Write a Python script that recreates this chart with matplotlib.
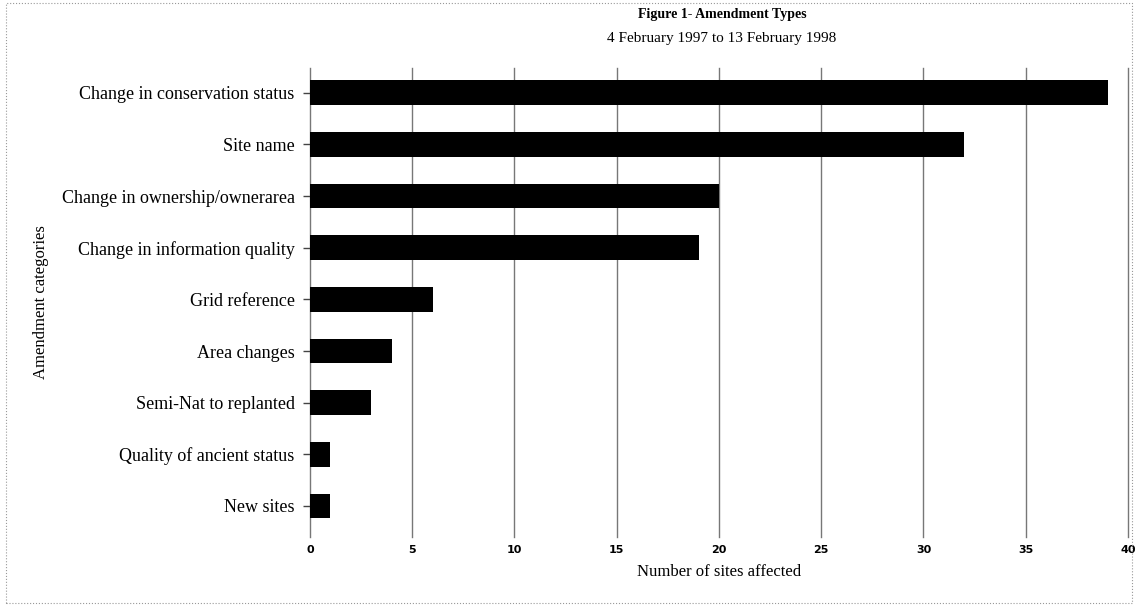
import matplotlib.pyplot as plt
import matplotlib.patches as mpatches
import numpy as np

# Amendment categories and number of sites affected
categories = ['Change in conservation status', 'Site name', 'Change in ownership/ownerarea',
              'Change in information quality', 'Grid reference', 'Area changes',
              'Semi-Nat to replanted', 'Quality of ancient status', 'New sites']
sites = [39, 32, 20, 19, 6, 4, 3, 1, 1]
xticks = [0, 5, 10, 15, 20, 25, 30, 35, 40]

plt.rcParams['font.family'] = ['Liberation Serif', 'DejaVu Serif']

fig = plt.figure(figsize=(11.38, 6.06), dpi=100)
ax = fig.add_axes([0.2724, 0.1139, 0.7188, 0.7739])

y = np.arange(len(categories))
ax.barh(y, sites, height=0.48, color='black', zorder=3)

ax.set_xlim(0, 40)
ax.set_ylim(8.6, -0.48)
ax.set_yticks(y)
ax.set_yticklabels(categories, fontsize=13)
ax.set_xticks(xticks)
ax.set_xticklabels([str(t) for t in xticks], fontsize=8, fontweight='bold',
                   family='DejaVu Sans')
ax.tick_params(axis='y', length=5, width=1, color='#444444', pad=6)
ax.tick_params(axis='x', length=0, pad=6)

for s in ax.spines.values():
    s.set_visible(False)
ax.grid(axis='x', color='#777777', linewidth=1, zorder=1)
for gl in ax.xaxis.get_gridlines():
    gl.set_clip_on(False)

ax.set_xlabel('Number of sites affected', fontsize=12, labelpad=6)
ax.set_ylabel('Amendment categories', fontsize=12, labelpad=9)

fig.text(0.6345, 0.976, 'Figure 1- Amendment Types', ha='center', va='center',
         fontsize=10, fontweight='bold')
fig.text(0.6345, 0.936, '4 February 1997 to 13 February 1998', ha='center',
         va='center', fontsize=11)

# faint dotted frame from the scanned page
fig.patches.append(mpatches.Rectangle((0.005, 0.005), 0.99, 0.99, transform=fig.transFigure,
                                      fill=False, edgecolor='#999999', linewidth=0.8,
                                      linestyle=':'))

fig.savefig('out.png', dpi=100)
